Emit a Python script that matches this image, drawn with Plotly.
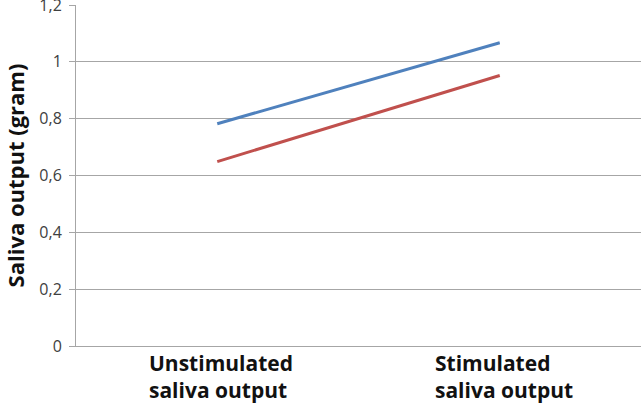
import plotly.graph_objects as go

categories = ["Unstimulated saliva output", "Stimulated saliva output"]
category_labels = ["Unstimulated<br>saliva output", "Stimulated<br>saliva output"]
series_blue = [0.782, 1.067]
series_red = [0.649, 0.952]
tick_vals = [0, 0.2, 0.4, 0.6, 0.8, 1.0, 1.2]
tick_text = ["0", "0,2", "0,4", "0,6", "0,8", "1", "1,2"]

fig = go.Figure()
fig.add_trace(go.Scatter(x=categories, y=series_blue, mode="lines",
                         line=dict(color="#4F81BD", width=3), showlegend=False))
fig.add_trace(go.Scatter(x=categories, y=series_red, mode="lines",
                         line=dict(color="#C0504D", width=3), showlegend=False))

for cat, lab in zip(categories, category_labels):
    fig.add_annotation(x=cat, xref="x", y=0, yref="paper", yanchor="top",
                       xanchor="center", align="left", showarrow=False,
                       text="<b>" + lab + "</b>", yshift=-1, xshift=4,
                       font=dict(size=21, family="Open Sans", color="#111"))

fig.update_layout(
    width=641, height=410,
    margin=dict(l=76, r=0, t=5, b=64),
    paper_bgcolor="white", plot_bgcolor="white",
    font=dict(family="Open Sans, sans-serif", color="#222"),
)
fig.update_xaxes(
    type="category", range=[-0.5, 1.5], automargin=False,
    showticklabels=False,
    showgrid=False, showline=True, linecolor="#A6A6A6", linewidth=1, zeroline=False,
    ticks="",
)
fig.update_yaxes(
    range=[0, 1.2], tickvals=tick_vals, ticktext=tick_text, automargin=False,
    showgrid=True, gridcolor="#A6A6A6", gridwidth=1,
    showline=True, linecolor="#A6A6A6", linewidth=1,
    ticks="outside", ticklen=6, tickcolor="#A6A6A6",
    zeroline=False, ticklabelstandoff=4, ticklabeloverflow="allow",
    tickfont=dict(size=16, family="Open Sans", color="#404040"),
    title=dict(text="<b>Saliva output (gram)</b>", font=dict(size=22, family="Open Sans", color="#111"), standoff=12),
)

fig.write_html("out.html", config={"displayModeBar": False},
               post_script="document.body.style.margin='0';document.body.style.overflow='hidden';")
